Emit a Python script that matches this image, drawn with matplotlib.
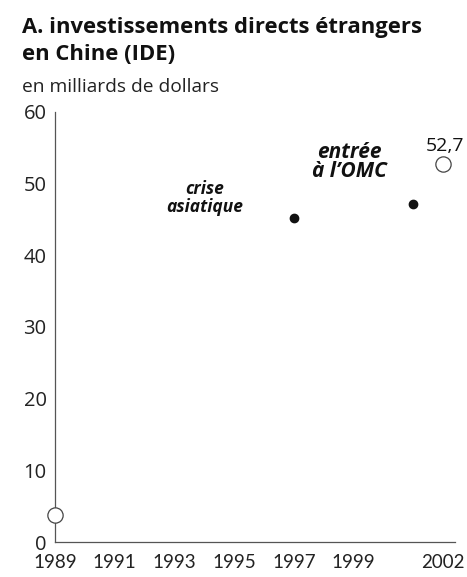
import matplotlib
matplotlib.use("Agg")
import matplotlib.pyplot as plt

# Data
years_open = [1989, 2002]
values_open = [3.8, 52.7]
years_filled = [1997, 2001]
values_filled = [45.2, 47.2]
xtick_years = [1989, 1991, 1993, 1995, 1997, 1999, 2002]
ytick_values = [0, 10, 20, 30, 40, 50, 60]

title = "A. investissements directs étrangers\nen Chine (IDE)"
subtitle = "en milliards de dollars"

fig = plt.figure(figsize=(4.67, 5.77), dpi=100)
ax = fig.add_axes([55/467, 35/577, 400/467, 430/577])

font_main = ["Open Sans", "DejaVu Sans"]
font_narrow = ["Liberation Sans Narrow", "Lato", "DejaVu Sans"]

ax.plot(years_filled, values_filled, "o", color="#111111", markersize=6,
        clip_on=False, zorder=3)
ax.plot(years_open, values_open, "o", markerfacecolor="white",
        markeredgecolor="#444444", markeredgewidth=0.9, markersize=11,
        clip_on=False, zorder=4)

ax.set_xlim(1989, 2002.4)
ax.set_ylim(0, 60)
ax.set_xticks(xtick_years)
ax.set_xticklabels([str(y) for y in xtick_years], family=font_narrow, fontsize=13.5)
ax.set_yticks(ytick_values)
ax.set_yticklabels([str(v) for v in ytick_values], family=font_main, fontsize=14.5)
ax.tick_params(axis="both", length=0, colors="#222222")
ax.tick_params(axis="y", pad=6)
ax.tick_params(axis="x", pad=9)

for s in ["top", "right"]:
    ax.spines[s].set_visible(False)
for s in ["left", "bottom"]:
    ax.spines[s].set_color("#555555")
    ax.spines[s].set_linewidth(0.9)

ax.text(1994.0, 48.0, "crise\nasiatique", ha="center", va="center",
        fontsize=12.5, fontweight="bold", fontstyle="italic", family=font_main,
        linespacing=0.95, color="#111111")
ax.text(1998.85, 53.0, "entrée\nà l’OMC", ha="center", va="center",
        fontsize=15, fontweight="bold", fontstyle="italic", family=font_main,
        linespacing=0.9, color="#111111")
ax.annotate("52,7", xy=(years_open[1], values_open[1]), xytext=(15, 13),
            textcoords="offset points", ha="right", va="center", fontsize=14,
            family=font_main, color="#111111", annotation_clip=False)

fig.text(22/467, 1 - 17/577, title, ha="left", va="top", fontsize=15.8,
         fontweight="bold", family=font_main, linespacing=1.35, color="#111111")
fig.text(22/467, 1 - 78/577, subtitle, ha="left", va="top", fontsize=13.8,
         family=font_main, color="#222222")

fig.savefig("out.png", dpi=100)
